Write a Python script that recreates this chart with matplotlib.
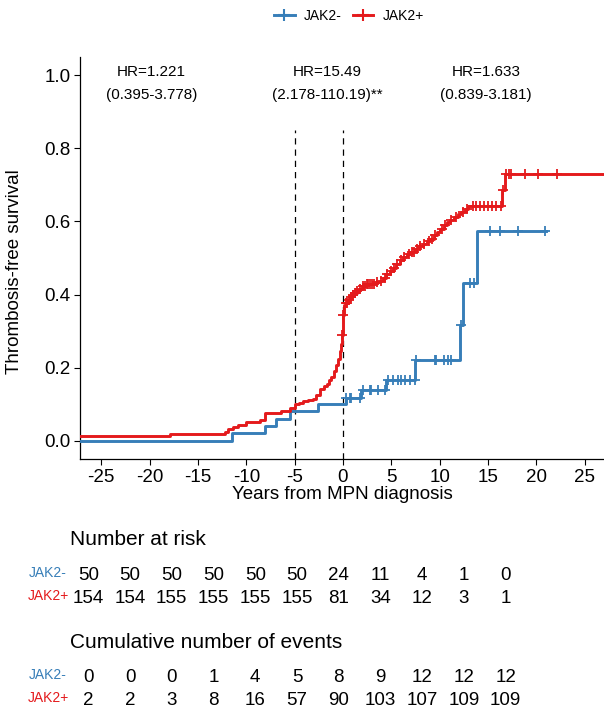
import matplotlib
matplotlib.use("Agg")
import matplotlib.pyplot as plt
from matplotlib.lines import Line2D
import numpy as np

plt.rcParams['font.family'] = ['Liberation Sans', 'DejaVu Sans']
plt.rcParams['axes.unicode_minus'] = False

BLUE = "#377EB8"
RED = "#E41A1C"

# JAK2- : step times (years) and cumulative value after each step
neg_start, neg_end = -27.5, 21.0
neg_times = [-11.5, -8.1, -6.9, -5.5, -2.6, 0.35, 1.9, 4.5, 7.5, 12.1, 12.4, 13.9]
neg_vals = [0.02, 0.04, 0.06, 0.08, 0.10, 0.117, 0.139, 0.165, 0.221, 0.318, 0.431, 0.573]
neg_censor = [0.35, 0.7, 0.87, 1.73, 2.07, 2.76, 2.94, 3.62, 4.31, 4.66, 5.17, 5.69,
              6.04, 6.38, 6.9, 7.4, 7.59, 9.49, 9.66, 10.5, 10.86, 11.21, 12.2,
              13.1, 13.6, 15.2, 16.2, 18.1, 20.9]

# JAK2+
pos_start, pos_end = -27.5, 28.0
pos_base = 0.013
pos_times = [-17.9, -12.2, -11.9, -11.4, -10.85, -10.0, -8.6, -8.1, -6.4, -5.5, -5.0,
             -4.5, -4.1, -3.6, -3.1, -2.75, -2.4, -2.0, -1.7, -1.4, -1.2, -0.95, -0.7,
             -0.5, -0.34, -0.2, -0.1, 0.0, 0.05, 0.1,
             0.15, 0.3, 0.5, 0.7, 0.9, 1.1, 1.4, 1.7, 2.0, 2.4, 2.9, 3.4, 3.8, 4.1, 4.5,
             4.9, 5.2, 5.5, 5.9, 6.2, 6.6, 7.0, 7.4, 7.8, 8.3, 8.7, 9.0, 9.4, 9.7, 10.0,
             10.4, 10.8, 11.1, 11.5, 11.9, 12.2, 12.6, 12.9, 16.5, 16.8]
pos_vals = [0.019, 0.025, 0.032, 0.038, 0.044, 0.050, 0.056, 0.076, 0.082, 0.090, 0.100,
            0.104, 0.108, 0.111, 0.115, 0.124, 0.142, 0.150, 0.156, 0.165, 0.174, 0.190,
            0.208, 0.225, 0.245, 0.265, 0.290, 0.315, 0.345, 0.365,
            0.372, 0.378, 0.385, 0.392, 0.398, 0.404, 0.410, 0.416, 0.423, 0.428, 0.430,
            0.434, 0.438, 0.446, 0.455, 0.464, 0.474, 0.483, 0.495, 0.502, 0.510, 0.517,
            0.525, 0.532, 0.539, 0.546, 0.552, 0.562, 0.570, 0.580, 0.589, 0.598, 0.605,
            0.611, 0.620, 0.626, 0.634, 0.641, 0.685, 0.731]
pos_censor = [-0.1, 0.05, 0.3, 0.45, 0.6, 0.8, 1.0, 1.2, 1.5, 1.8, 2.1, 2.3, 2.5, 2.6, 2.8,
              3.0, 3.2, 3.5, 3.9, 4.3, 4.6, 5.0, 5.3, 5.6, 6.0, 6.3, 6.8, 7.1, 7.3, 7.7,
              8.0, 8.4, 8.9, 9.2, 9.5, 10.2, 10.6, 11.2, 11.7, 12.4, 12.8, 13.4, 13.8,
              14.2, 14.6, 15.0, 15.4, 15.8, 16.3, 16.6, 16.9, 17.2, 17.4, 18.8, 20.2, 22.1]

hr_x = [-19.8, -1.6, 14.8]
hr_line1 = ["HR=1.221", "HR=15.49", "HR=1.633"]
hr_line2 = ["(0.395-3.778)", "(2.178-110.19)**", "(0.839-3.181)"]
period_bounds = [-5, 0]

table_times = [-25, -20, -15, -10, -5, 0, 5, 10, 15, 20, 25]
risk_neg = [50, 50, 50, 50, 50, 50, 24, 11, 4, 1, 0]
risk_pos = [154, 154, 155, 155, 155, 155, 81, 34, 12, 3, 1]
events_neg = [0, 0, 0, 1, 4, 5, 8, 9, 12, 12, 12]
events_pos = [2, 2, 3, 8, 16, 57, 90, 103, 107, 109, 109]


def step_xy(start, base, times, vals, end):
    x = np.concatenate([[start], times, [end]])
    y = np.concatenate([[base], vals, [vals[-1]]])
    return x, y


def value_at(t, base, times, vals):
    idx = np.searchsorted(times, t, side='right')
    allv = np.concatenate([[base], vals])
    return allv[idx]


fig = plt.figure(figsize=(6.04, 7.08), dpi=100)
W, H = 604, 708
ax = fig.add_axes([80 / W, 1 - 459 / H, 524 / W, 402 / H])

for start, base, times, vals, end, cens, col in [
        (neg_start, 0.0, neg_times, neg_vals, neg_end, neg_censor, BLUE),
        (pos_start, pos_base, pos_times, pos_vals, pos_end, pos_censor, RED)]:
    x, y = step_xy(start, base, np.array(times), np.array(vals), end)
    ax.step(x, y, where='post', color=col, lw=2.1, zorder=3)
    cy = value_at(np.array(cens), base, np.array(times), np.array(vals))
    ax.plot(cens, cy, ls='none', marker='+', ms=7, mew=1.3, color=col, zorder=4)

for b in period_bounds:
    ax.plot([b, b], [-0.05, 0.85], color='black', lw=0.9, ls=(0, (5, 4)), zorder=2)

for xx, l1, l2 in zip(hr_x, hr_line1, hr_line2):
    ax.text(xx, 1.008, l1, ha='center', va='center', fontsize=11)
    ax.text(xx, 0.946, l2, ha='center', va='center', fontsize=11)

ax.set_xlim(-27.2, 27.0)
ax.set_ylim(-0.05, 1.05)
ax.set_xticks(table_times)
ax.set_yticks([0, 0.2, 0.4, 0.6, 0.8, 1.0])
ax.set_yticklabels(["0.0", "0.2", "0.4", "0.6", "0.8", "1.0"])
ax.tick_params(labelsize=13.5, length=4, width=0.8, pad=3, colors='black')
for s in ['top', 'right']:
    ax.spines[s].set_visible(False)
for s in ['left', 'bottom']:
    ax.spines[s].set_linewidth(0.9)
ax.set_xlabel("Years from MPN diagnosis", fontsize=13.5, labelpad=0)
ax.set_ylabel("Thrombosis-free survival", fontsize=13.5)
ax.yaxis.set_label_coords(-0.109, 0.466)

handles = [Line2D([], [], color=BLUE, lw=2.1, marker='+', ms=8, mew=1.5),
           Line2D([], [], color=RED, lw=2.1, marker='+', ms=8, mew=1.5)]
fig.legend(handles, ["JAK2-", "JAK2+"], loc='center', bbox_to_anchor=(349 / W, 1 - 16 / H),
           ncol=2, frameon=False, fontsize=10, handlelength=1.45, handletextpad=0.7,
           columnspacing=0.75)

# tables below
tab = fig.add_axes([0, 0, 1, 1], zorder=-1)
tab.axis('off')
px_per_year = 8.348
tab.set_xlim(-25 - 88.3 / px_per_year, -25 + (W - 88.3) / px_per_year)
tab.set_ylim(H, 0)
x_title = -25 - 88.3 / px_per_year + 70 / px_per_year
x_lab = -25 - 88.3 / px_per_year + 48 / px_per_year

blocks = [("Number at risk", 545, risk_neg, risk_pos, 580, 602.7),
          ("Cumulative number of events", 648.3, events_neg, events_pos, 681.7, 705)]
for title, ty, rneg, rpos, y1, y2 in blocks:
    tab.text(x_title, ty, title, fontsize=15, ha='left', va='baseline')
    tab.text(x_lab, y1 - 3, "JAK2-", color=BLUE, fontsize=10, ha='center', va='baseline')
    tab.text(x_lab, y2 - 2.5, "JAK2+", color=RED, fontsize=10, ha='center', va='baseline')
    for t, a, b in zip(table_times, rneg, rpos):
        tab.text(t, y1, str(a), fontsize=13.5, ha='center', va='baseline')
        tab.text(t, y2, str(b), fontsize=13.5, ha='center', va='baseline')

fig.savefig("out.png", dpi=100)
